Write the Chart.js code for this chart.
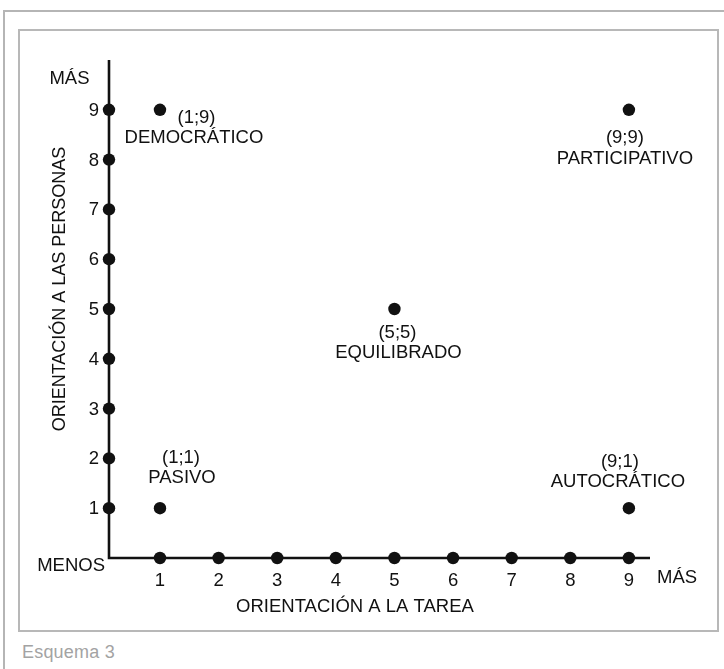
<!DOCTYPE html>
<html>
<head>
<meta charset="utf-8">
<script src="https://cdn.jsdelivr.net/npm/chart.js@4.4.0/dist/chart.umd.min.js"></script>
<style>
  html, body { margin: 0; padding: 0; background: #fff; }
  #wrap { position: relative; width: 724px; height: 669px; overflow: hidden; background: #fff; }
  #outer { position: absolute; left: 3px; top: 10px; width: 760px; height: 700px;
           border-left: 2px solid #b5b5b5; border-top: 2px solid #b5b5b5; }
  #inner { position: absolute; left: 18px; top: 29px; width: 697px; height: 599px;
           border: 2px solid #b8b8b8; }
  #caption { position: absolute; left: 22px; top: 642px; font-family: "Liberation Sans", Arial, sans-serif;
             font-size: 18px; color: #a3a3a3; letter-spacing: 0.2px; }
  canvas { position: absolute; left: 0; top: 0; }
</style>
</head>
<body>
<div id="wrap">
  <div id="outer"></div>
  <div id="inner"></div>
  <div id="caption">Esquema 3</div>
  <canvas id="c" width="724" height="669"></canvas>
</div>
<script>
// ---- data ----
const styleX = [1, 9, 5, 1, 9];          // orientación a la tarea
const styleY = [9, 9, 5, 1, 1];          // orientación a las personas
const styleCoords = ["(1;9)", "(9;9)", "(5;5)", "(1;1)", "(9;1)"];
const styleNames = ["DEMOCRÁTICO", "PARTICIPATIVO", "EQUILIBRADO", "PASIVO", "AUTOCRÁTICO"];
const xTicks = [1, 2, 3, 4, 5, 6, 7, 8, 9];
const yTicks = [1, 2, 3, 4, 5, 6, 7, 8, 9];
const xTitle = "ORIENTACIÓN A LA TAREA";
const yTitle = "ORIENTACIÓN A LAS PERSONAS";
const highLabel = "MÁS";
const lowLabel = "MENOS";

// ---- scale range ----
const X_MIN = 0.13, X_MAX = 9.36, Y_MIN = 0, Y_MAX = 10;

// label offsets (style only): [dx coords, dy coords, dx name, dy name]
const labelOffsets = [
  [36.5, 8, 34, 28],
  [-4, 28, -4, 49],
  [3, 24, 4, 44],
  [21, -50, 22, -30],
  [-9, -46, -11, -26]
];

const FONT = '"Liberation Sans", Arial, Helvetica, sans-serif';
const INK = '#111';

const points = styleX.map((x, i) => ({ x: x, y: styleY[i] }));
const yAxisDots = yTicks.map(v => ({ x: X_MIN, y: v }));
const xAxisDots = xTicks.map(v => ({ x: v, y: Y_MIN }));

const decor = {
  id: 'decor',
  beforeDatasetsDraw(chart) {
    const ctx = chart.ctx, a = chart.chartArea;
    ctx.save();
    ctx.strokeStyle = INK;
    ctx.lineWidth = 2.6;
    ctx.lineCap = 'butt';
    ctx.beginPath();
    ctx.moveTo(a.left, a.top);
    ctx.lineTo(a.left, a.bottom);
    ctx.lineTo(a.right, a.bottom);
    ctx.stroke();
    ctx.restore();
  },
  afterDatasetsDraw(chart) {
    const ctx = chart.ctx, a = chart.chartArea;
    const xs = chart.scales.x, ys = chart.scales.y;
    ctx.save();
    ctx.fillStyle = INK;
    ctx.font = '18.5px ' + FONT;
    ctx.textBaseline = 'middle';
    // y tick labels
    ctx.textAlign = 'right';
    yTicks.forEach(v => ctx.fillText(String(v), a.left - 10, ys.getPixelForValue(v) + 1));
    // x tick labels
    ctx.textAlign = 'center';
    xTicks.forEach(v => ctx.fillText(String(v), xs.getPixelForValue(v), a.bottom + 23));
    // MÁS / MENOS
    ctx.textAlign = 'center';
    ctx.fillText(highLabel, 69.5, 79);
    ctx.textAlign = 'right';
    ctx.fillText(lowLabel, a.left - 4, a.bottom + 8);
    ctx.textAlign = 'left';
    ctx.fillText(highLabel, a.right + 7, a.bottom + 20);
    // axis titles
    ctx.textAlign = 'center';
    ctx.fillText(xTitle, 355, a.bottom + 48.5);
    ctx.save();
    ctx.font = '18px ' + FONT;
    ctx.translate(60, 289);
    ctx.rotate(-Math.PI / 2);
    ctx.fillText(yTitle, 0, 0);
    ctx.restore();
    // point labels
    ctx.textAlign = 'center';
    points.forEach((p, i) => {
      const px = xs.getPixelForValue(p.x), py = ys.getPixelForValue(p.y);
      const o = labelOffsets[i];
      ctx.fillText(styleCoords[i], px + o[0], py + o[1]);
      ctx.fillText(styleNames[i], px + o[2], py + o[3]);
    });
    ctx.restore();
  }
};

new Chart(document.getElementById('c'), {
  type: 'scatter',
  data: {
    datasets: [
      { data: points, pointRadius: 6.2, pointBackgroundColor: INK, pointBorderWidth: 0, clip: false },
      { data: yAxisDots, pointRadius: 6.2, pointBackgroundColor: INK, pointBorderWidth: 0, clip: false },
      { data: xAxisDots, pointRadius: 6.2, pointBackgroundColor: INK, pointBorderWidth: 0, clip: false }
    ]
  },
  options: {
    responsive: false,
    animation: false,
    layout: { padding: { left: 109, top: 60, right: 74, bottom: 111 } },
    plugins: { legend: { display: false }, tooltip: { enabled: false } },
    scales: {
      x: { type: 'linear', min: X_MIN, max: X_MAX, display: false },
      y: { type: 'linear', min: Y_MIN, max: Y_MAX, display: false }
    }
  },
  plugins: [decor]
});
</script>
</body>
</html>
